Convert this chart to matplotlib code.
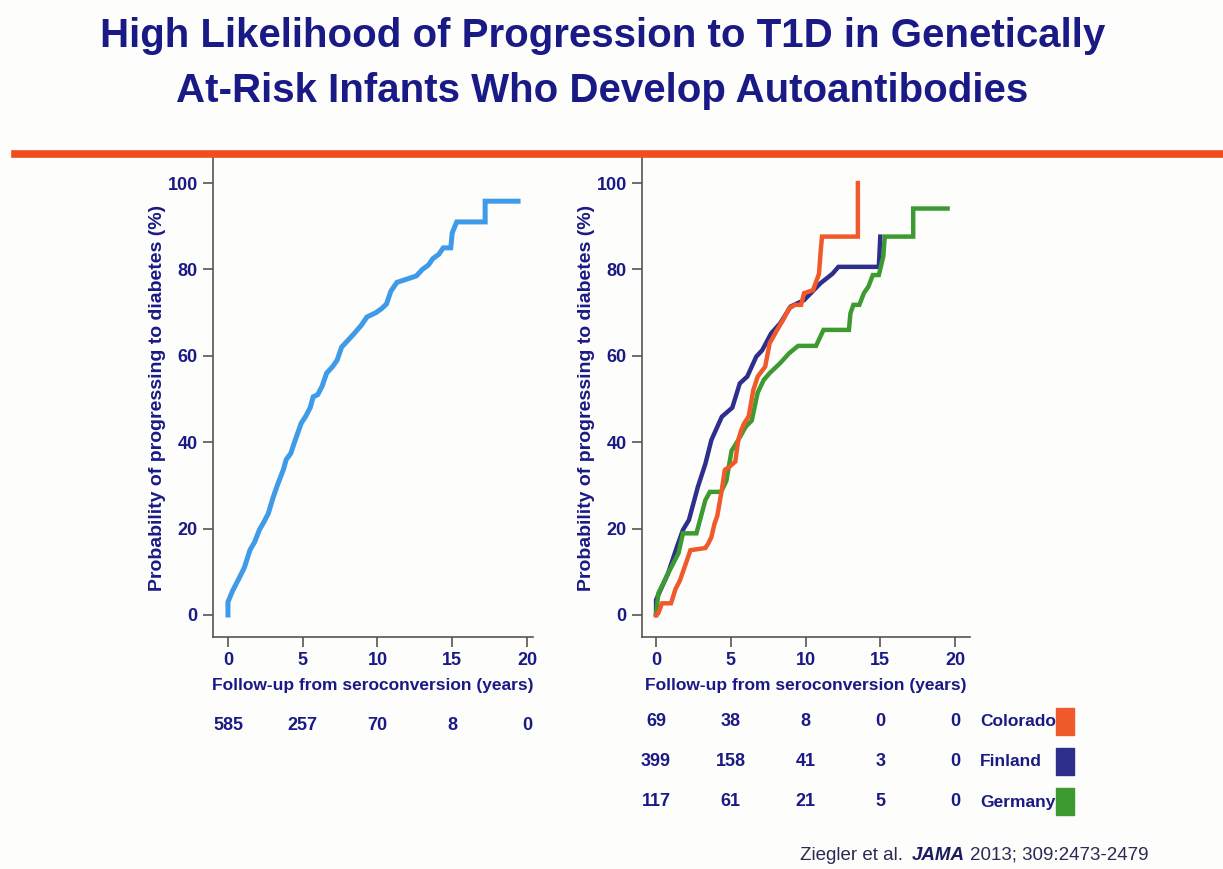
import matplotlib
matplotlib.use('Agg')
import matplotlib.pyplot as plt
from matplotlib.lines import Line2D
from matplotlib.patches import Rectangle

plt.rcParams['font.family'] = ['Liberation Sans', 'DejaVu Sans']

navy = '#1a1a86'

# overall cohort (left panel), vertices
all_t = [0, 0, 0.3, 0.8, 1.1, 1.47, 1.8, 2.1, 2.4, 2.7, 3.0, 3.3, 3.7, 3.9, 4.2,
         4.5, 4.9, 5.2, 5.5, 5.7, 6.0, 6.3, 6.6, 7.0, 7.3, 7.6, 8.0, 8.4, 8.9, 9.3,
         9.9, 10.3, 10.6, 10.9, 11.3, 12.0, 12.6, 13.0, 13.4, 13.7, 14.1, 14.4,
         14.9, 15.0, 15.3, 17.2, 17.2, 19.4]
all_v = [0, 3, 5.5, 8.9, 11, 15, 17, 19.7, 21.5, 23.5, 27, 30, 33.6, 36, 37.4,
         40.5, 44.4, 46, 48, 50.5, 51, 53, 56, 57.5, 59, 62, 63.5, 65, 67, 69,
         70, 71, 72, 75, 77, 77.8, 78.5, 80, 81, 82.5, 83.5, 85,
         85, 88.5, 91, 91, 95.8, 95.8]

# by country (right panel)
col_t = [0, 0.15, 0.4, 1.0, 1.3, 1.6, 1.9, 2.3, 3.3, 3.5, 3.7, 3.9, 4.1, 4.4, 4.6,
         4.9, 5.3, 5.5, 5.7, 5.9, 6.2, 6.5, 6.8, 7.3, 7.6, 8.1, 8.5, 8.9, 9.3, 9.7,
         9.9, 10.5, 10.9, 11.0, 11.1, 13.5, 13.5]
col_v = [0, 0.4, 2.7, 2.7, 6, 8, 11, 15, 15.5, 16.6, 18, 21, 23, 29, 33.6,
         34.3, 35.5, 40.5, 42.8, 44.4, 46, 52, 55.2, 57.5, 62.9, 66, 68.3, 71, 71.8, 71.8,
         74.5, 75.2, 79, 83.7, 87.6, 87.6, 100]

fin_t = [0, 0, 0.8, 1.4, 1.8, 2.2, 2.8, 3.3, 3.7, 4.4, 5.1, 5.6, 6.1, 6.7, 7.1,
         7.7, 8.3, 9.0, 9.9, 11.0, 11.8, 12.2, 14.9, 15.0]
fin_v = [0, 3.5, 9.6, 15.8, 19.7, 22, 29.7, 35, 40.5, 45.9, 48, 53.6, 55.2, 59.8, 61.3,
         65.2, 67.5, 71.4, 72.9, 76.8, 79, 80.6, 80.6, 87.6]

ger_t = [0, 0.15, 0.8, 1.5, 1.8, 2.7, 3.3, 3.6, 4.35, 4.7, 5.05, 5.5, 6.0, 6.4, 6.8,
         7.2, 7.6, 8.3, 8.9, 9.5, 10.7, 11.2, 12.9, 13.0, 13.2, 13.6, 13.9, 14.2,
         14.5, 14.9, 15.2, 15.3, 17.2, 17.2, 19.5]
ger_v = [0, 5, 9.6, 14.3, 18.9, 18.9, 26.6, 28.5, 28.5, 31, 38, 40.5, 43.6, 45, 51.5,
         54.4, 56, 58.3, 60.6, 62.3, 62.3, 66, 66, 69.8, 71.8, 71.8, 74.5, 76,
         78.7, 78.7, 83, 87.6, 87.6, 94.1, 94.1]

# numbers at risk
risk_all = ['585', '257', '70', '8', '0']
risk_years = [0, 5, 10, 15, 20]
regions = ['Colorado', 'Finland', 'Germany']
risk_reg = [['69', '38', '8', '0', '0'],
            ['399', '158', '41', '3', '0'],
            ['117', '61', '21', '5', '0']]
reg_colors = ['#f05a2a', '#2e2e8c', '#3c9a30']

W, H = 1223, 869
fig = plt.figure(figsize=(W / 100, H / 100), dpi=100)
fig.patch.set_facecolor('#fdfdfb')

def px(x, y):
    return x / W, 1 - y / H

# title and rule
fig.text(*px(603, 47), 'High Likelihood of Progression to T1D in Genetically',
         ha='center', va='baseline', fontsize=29, fontweight='bold', color=navy)
fig.text(*px(602, 102), 'At-Risk Infants Who Develop Autoantibodies',
         ha='center', va='baseline', fontsize=29, fontweight='bold', color=navy)
fig.add_artist(Line2D([15 / W, 1], [1 - 153.5 / H, 1 - 153.5 / H], color='#f04c20', lw=5.5))

def style(ax, xl, xr):
    ax.set_facecolor('none')
    ax.set_xlim(xl, xr)
    ax.set_ylim(-5.1, 105.8)
    for s in ['top', 'right']:
        ax.spines[s].set_visible(False)
    for s in ['left', 'bottom']:
        ax.spines[s].set_color('#555555')
        ax.spines[s].set_linewidth(1.2)
    ax.set_xticks([0, 5, 10, 15, 20])
    ax.set_yticks([0, 20, 40, 60, 80, 100])
    ax.tick_params(direction='out', length=7, width=1.2, color='#555555',
                   labelcolor=navy, labelsize=13, pad=4)
    for lab in ax.get_xticklabels() + ax.get_yticklabels():
        lab.set_fontweight('bold')
    ax.set_xlabel('Follow-up from seroconversion (years)', fontsize=12.5,
                  fontweight='bold', color=navy, labelpad=6)
    ax.set_ylabel('Probability of progressing to diabetes (%)', fontsize=14,
                  fontweight='bold', color=navy, labelpad=1)

ax1 = fig.add_axes([213 / W, 1 - 637 / H, 320 / W, 479 / H])
style(ax1, -1.0, 20.4)
ax1.plot(all_t, all_v, color='#3f9ae8', lw=3.6, solid_joinstyle='miter')

ax2 = fig.add_axes([642 / W, 1 - 637 / H, 328 / W, 479 / H])
style(ax2, -0.94, 21.0)
ax2.plot(fin_t, fin_v, color=reg_colors[1], lw=3.2, solid_joinstyle='miter')
ax2.plot(ger_t, ger_v, color=reg_colors[2], lw=3.2, solid_joinstyle='miter')
ax2.plot(col_t, col_v, color=reg_colors[0], lw=3.2, solid_joinstyle='miter')

# left number-at-risk row, columns under the x ticks
bl1 = ax1.get_xaxis_transform()
for yr, n in zip(risk_years, risk_all):
    ax1.text(yr, -88 / 479, n, transform=bl1, ha='center', va='center', fontsize=13,
             fontweight='bold', color=navy, clip_on=False)

# right number-at-risk table with legend squares
bl2 = ax2.get_xaxis_transform()
row_y = [722, 762, 802]
for name, row, c, yp in zip(regions, risk_reg, reg_colors, row_y):
    for yr, n in zip(risk_years, row):
        ax2.text(yr, (637 - yp) / 479, n, transform=bl2, ha='center', va='center',
                 fontsize=13, fontweight='bold', color=navy, clip_on=False)
    fig.text(*px(980, yp), name, ha='left', va='center', fontsize=12.5,
             fontweight='bold', color=navy)
    fig.add_artist(Rectangle(px(1056, yp + 13), 18 / W, 27 / H, color=c,
                             transform=fig.transFigure))

# citation, pieces placed one after another
rend = fig.canvas.get_renderer()
xpos = 800
pieces = [('Ziegler et al.', 'normal', 'normal', '#2a2a55', 9),
          ('JAMA', 'bold', 'italic', '#1c1c60', 5),
          ('2013; 309:2473-2479', 'normal', 'normal', '#2a2a55', 0)]
for s, wt, st, c, gap in pieces:
    t = fig.text(*px(xpos, 855), s, ha='left', va='center', fontsize=13.5, color=c,
                 fontweight=wt, fontstyle=st)
    xpos += t.get_window_extent(rend).width + gap

fig.savefig('out.png', dpi=100, facecolor=fig.get_facecolor())
